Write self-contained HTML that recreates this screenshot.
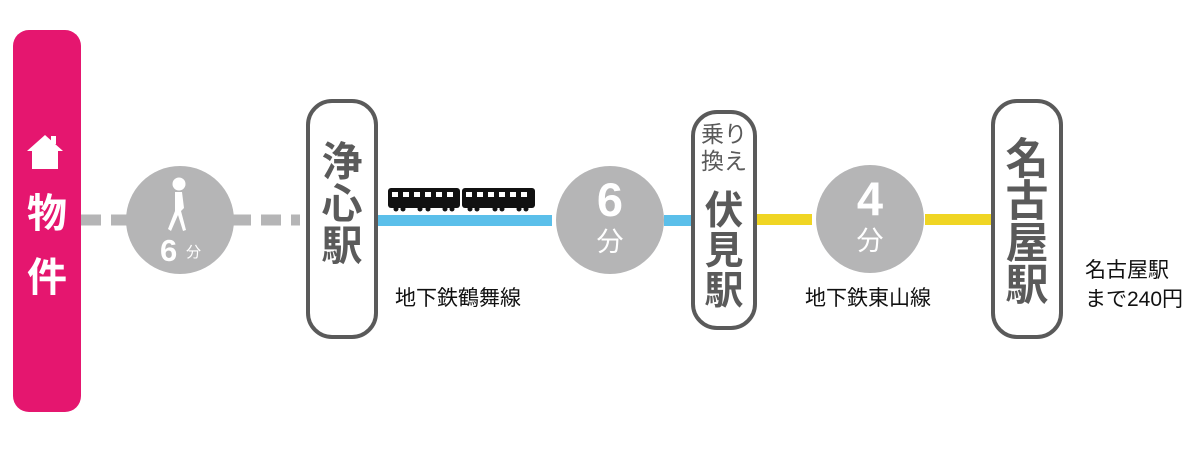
<!DOCTYPE html>
<html><head><meta charset="utf-8"><style>
body{margin:0;width:1200px;height:452px;background:#fff;position:relative;overflow:hidden;font-family:"Liberation Sans","Noto Sans CJK JP",sans-serif}
.a{position:absolute}
.box{position:absolute;border:4px solid #5a5a5a;border-radius:26px;box-sizing:border-box;background:#fff}
.st{position:absolute;left:0;right:0;text-align:center;color:#5a5a5a;font-weight:bold;line-height:1}
.circ{position:absolute;border-radius:50%;background:#b5b5b6}
.lbl{position:absolute;font-size:21px;color:#111;line-height:1;white-space:nowrap}
</style></head><body>
<div class="a" style="left:13px;top:30px;width:68px;height:382px;background:#e5166f;border-radius:16px"></div>
<svg class="a" style="left:26px;top:133px" width="38" height="36" viewBox="0 0 38 36"><path d="M19 2 L37 18 L32 18 L32 36 L6 36 L6 18 L1 18 Z" fill="#fff"/><rect x="25" y="3" width="5" height="8" fill="#fff"/></svg>
<div class="a" style="left:13px;width:68px;top:194px;text-align:center;color:#fff;font-weight:bold;font-size:40px;line-height:1">物</div>
<div class="a" style="left:13px;width:68px;top:258px;text-align:center;color:#fff;font-weight:bold;font-size:40px;line-height:1">件</div>

<svg class="a" style="left:0;top:0" width="1200" height="452">
<line x1="81" y1="220" x2="300" y2="220" stroke="#b5b5b6" stroke-width="11" stroke-dasharray="20,10"/>
<rect x="377" y="215" width="175" height="11" fill="#5bbfea"/>
<rect x="664" y="215" width="30" height="11" fill="#5bbfea"/>
<rect x="757" y="214" width="55" height="11" fill="#f0d523"/>
<rect x="925" y="214" width="68" height="11" fill="#f0d523"/>
<g fill="#111">
<rect x="388" y="188" width="72" height="20" rx="3"/>
<rect x="462" y="188" width="73" height="20" rx="3"/>
<circle cx="396" cy="209" r="2.5"/><circle cx="403" cy="209" r="2.5"/><circle cx="420" cy="209" r="2.5"/><circle cx="428" cy="209" r="2.5"/><circle cx="445" cy="209" r="2.5"/><circle cx="452" cy="209" r="2.5"/>
<circle cx="470" cy="209" r="2.5"/><circle cx="477" cy="209" r="2.5"/><circle cx="495" cy="209" r="2.5"/><circle cx="502" cy="209" r="2.5"/><circle cx="519" cy="209" r="2.5"/><circle cx="526" cy="209" r="2.5"/>
</g>
<g fill="#fff">
<rect x="392" y="192" width="6" height="5"/><rect x="403" y="192" width="6" height="5"/><rect x="414" y="192" width="6" height="5"/><rect x="425" y="192" width="6" height="5"/><rect x="436" y="192" width="6" height="5"/><rect x="447" y="192" width="6" height="5"/>
<rect x="466" y="192" width="6" height="5"/><rect x="477" y="192" width="6" height="5"/><rect x="488" y="192" width="6" height="5"/><rect x="499" y="192" width="6" height="5"/><rect x="510" y="192" width="6" height="5"/><rect x="521" y="192" width="6" height="5"/>
</g>
</svg>

<div class="circ" style="left:126px;top:166px;width:108px;height:108px"></div>
<svg class="a" style="left:160px;top:175px" width="40" height="60"><circle cx="19" cy="9" r="6.5" fill="#fff"/><path d="M15 17 L22 17 L24 33 L21 36 L26 55 L23 56 L18 40 L11 56 L8 54 L15 36 Z" fill="#fff"/></svg>
<div class="a" style="left:160px;top:235px;color:#fff;font-weight:bold;font-size:31px;line-height:1">6</div>
<div class="a" style="left:186px;top:245px;color:#fff;font-size:15px;line-height:1">分</div>

<div class="box" style="left:306px;top:99px;width:72px;height:240px">
<div class="st" style="top:38px;font-size:41px;line-height:42px">浄<br>心<br>駅</div></div>

<div class="circ" style="left:556px;top:166px;width:108px;height:108px"></div>
<div class="a" style="left:556px;width:108px;top:176px;text-align:center;color:#fff;font-weight:bold;font-size:47px;line-height:1">6</div>
<div class="a" style="left:556px;width:108px;top:229px;text-align:center;color:#fff;font-size:27px;line-height:1">分</div>

<div class="box" style="left:691px;top:110px;width:66px;height:220px">
<div class="st" style="top:7px;font-size:23px;line-height:27px;font-weight:normal">乗り<br>換え</div>
<div class="st" style="top:78px;font-size:39px;line-height:40px">伏<br>見<br>駅</div></div>

<div class="circ" style="left:816px;top:165px;width:108px;height:108px"></div>
<div class="a" style="left:816px;width:108px;top:175px;text-align:center;color:#fff;font-weight:bold;font-size:47px;line-height:1">4</div>
<div class="a" style="left:816px;width:108px;top:228px;text-align:center;color:#fff;font-size:27px;line-height:1">分</div>

<div class="box" style="left:991px;top:99px;width:72px;height:240px">
<div class="st" style="top:36px;font-size:43px;line-height:42px">名<br>古<br>屋<br>駅</div></div>

<div class="lbl" style="left:395px;top:288px">地下鉄鶴舞線</div>
<div class="lbl" style="left:805px;top:288px">地下鉄東山線</div>
<div class="lbl" style="left:1085px;top:256px;line-height:29px">名古屋駅<br>まで240円</div>
</body></html>
